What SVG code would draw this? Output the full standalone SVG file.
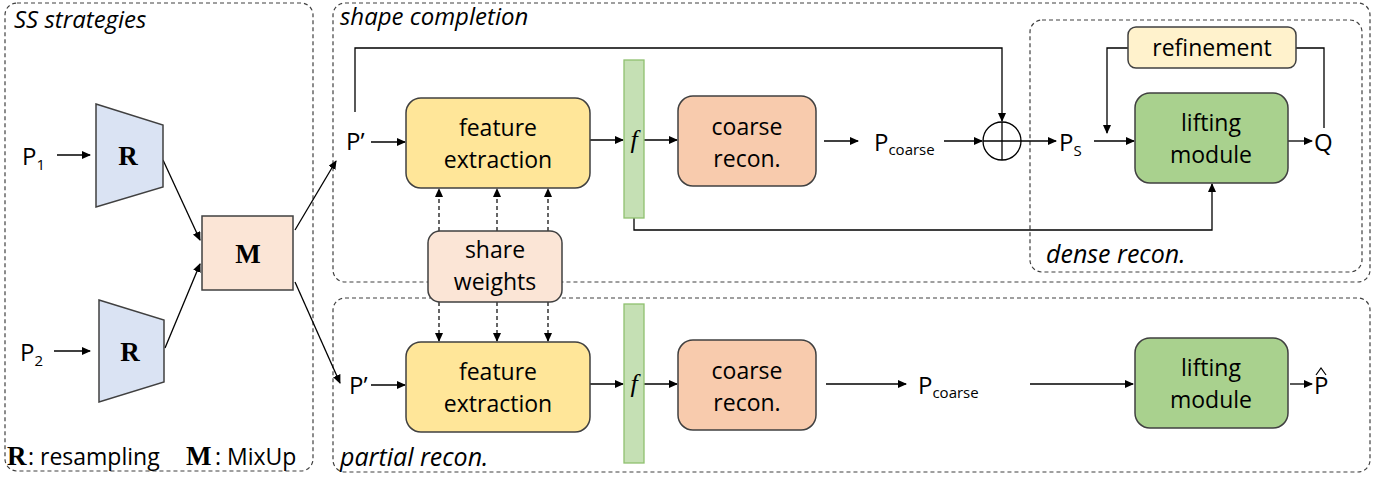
<svg xmlns="http://www.w3.org/2000/svg" width="1384" height="477" viewBox="0 0 1384 477">
<defs>
<marker id="ah" markerWidth="9" markerHeight="8" refX="8" refY="4" orient="auto" markerUnits="userSpaceOnUse"><path d="M0,0 L9,4 L0,8 z" fill="#000"/></marker>
<style>
.panel{fill:none;stroke:#404040;stroke-width:1.2;stroke-dasharray:4,3}
.box{stroke:#404040;stroke-width:1.5}
.ln{fill:none;stroke:#000;stroke-width:1.3}
.ar{fill:none;stroke:#000;stroke-width:1.3;marker-end:url(#ah)}
.dash{fill:none;stroke:#000;stroke-width:1.2;stroke-dasharray:4,3;marker-end:url(#ah)}
.t{font-family:"Open Sans","Liberation Sans",sans-serif;font-size:23px;fill:#000}
.p{font-size:24px}
.c{text-anchor:middle}
.it{font-family:"Open Sans","Liberation Sans",sans-serif;font-style:italic;font-size:24px;fill:#000}
.sub{font-size:15px}
.bs{font-family:"Liberation Serif",serif;font-weight:bold;font-size:27px;fill:#000}
.fi{font-family:"Liberation Serif",serif;font-style:italic;font-size:26px;fill:#000;text-anchor:middle}
</style>
</defs>
<rect width="1384" height="477" fill="#fff"/>

<g id="panels">
<rect class="panel" x="5" y="3" width="308" height="468" rx="12"/>
<rect class="panel" x="333" y="3" width="1037" height="279" rx="12"/>
<rect class="panel" x="333" y="298" width="1037" height="174" rx="12"/>
<rect class="panel" x="1030" y="20" width="332" height="252" rx="12"/>
<text class="it" x="14" y="28">SS strategies</text>
<text class="it" x="340" y="25">shape completion</text>
<text class="it" x="1046" y="263" style="font-size:25px">dense recon.</text>
<text class="it" x="340" y="466" style="font-size:25px">partial recon.</text>
</g>

<g id="connectors">
<line class="ar" x1="57" y1="155" x2="90" y2="155"/>
<line class="ar" x1="54" y1="351" x2="90" y2="351"/>
<line class="ar" x1="163" y1="160" x2="200" y2="240"/>
<line class="ar" x1="165" y1="348" x2="200" y2="264"/>
<line class="ar" x1="295" y1="230" x2="336" y2="161"/>
<line class="ar" x1="295" y1="282" x2="340" y2="383"/>
<polyline class="ar" points="355,112 355,48 1002,48 1002,121"/>
<line class="ar" x1="371" y1="142" x2="405" y2="142"/>
<line class="ar" x1="590" y1="140" x2="623" y2="140"/>
<line class="ar" x1="644" y1="140" x2="677" y2="140"/>
<line class="ar" x1="824" y1="141" x2="858" y2="141"/>
<line class="ar" x1="944" y1="141" x2="982" y2="141"/>
<line class="ar" x1="1021" y1="141" x2="1056" y2="141"/>
<line class="ar" x1="1094" y1="141" x2="1134" y2="141"/>
<line class="ar" x1="1288" y1="141" x2="1312" y2="141"/>
<polyline class="ar" points="1128,48 1107,48 1107,133"/>
<polyline class="ln" points="1296,48 1324,48 1324,128"/>
<polyline class="ar" points="634,218 634,230 1212,230 1212,184"/>
<line class="dash" x1="439" y1="231" x2="439" y2="189"/>
<line class="dash" x1="497" y1="231" x2="497" y2="189"/>
<line class="dash" x1="548" y1="231" x2="548" y2="189"/>
<line class="dash" x1="439" y1="302" x2="439" y2="341"/>
<line class="dash" x1="497" y1="302" x2="497" y2="341"/>
<line class="dash" x1="548" y1="302" x2="548" y2="341"/>
<line class="ar" x1="371" y1="385" x2="405" y2="385"/>
<line class="ar" x1="590" y1="384" x2="623" y2="384"/>
<line class="ar" x1="644" y1="384" x2="677" y2="384"/>
<line class="ar" x1="826" y1="384" x2="906" y2="384"/>
<line class="ar" x1="1030" y1="384" x2="1133" y2="384"/>
<line class="ar" x1="1290" y1="384" x2="1312" y2="384"/>
</g>

<g id="labels">
<text class="t p" x="22" y="165">P<tspan class="sub" dy="5">1</tspan></text>
<text class="t p" x="20" y="361">P<tspan class="sub" dy="5">2</tspan></text>
<text class="t p" x="346" y="150">P’</text>
<text class="t p" x="349" y="394">P’</text>
<text class="t p" x="874" y="151">P<tspan class="sub" dy="4">coarse</tspan></text>
<text class="t p" x="918" y="394">P<tspan class="sub" dy="4">coarse</tspan></text>
<text class="t p" x="1059" y="151">P<tspan class="sub" dy="5">S</tspan></text>
<text class="t p" x="1314" y="151">Q</text>
<text class="t p" x="1314" y="394">P</text>
<path d="M1316,375 L1321,368 L1326,375" fill="none" stroke="#000" stroke-width="1.2"/>
<text class="bs" x="7" y="465">R</text>
<text class="t" x="28" y="465">: resampling</text>
<text class="bs" x="186" y="465">M</text>
<text class="t" x="215" y="465">: MixUp</text>
</g>

<g id="R1">
<polygon class="box" points="96,104 163,125 163,187 96,207" fill="#dae3f3"/>
<text class="bs c" x="128" y="165">R</text>
</g>
<g id="R2">
<polygon class="box" points="99,300 164,320 164,382 99,402" fill="#dae3f3"/>
<text class="bs c" x="130" y="361">R</text>
</g>
<g id="M">
<rect class="box" x="202" y="216" width="91" height="74" fill="#fbe5d6"/>
<text class="bs c" x="248" y="263">M</text>
</g>

<g id="fe1">
<rect class="box" x="406" y="98" width="184" height="90" rx="15" fill="#ffe699"/>
<text class="t c" x="498" y="136">feature</text>
<text class="t c" x="498" y="168">extraction</text>
</g>
<g id="f1">
<rect x="624" y="60" width="20" height="158" fill="#c5e0b4" stroke="#8fc16f" stroke-width="1.3"/>
<text class="fi" x="634" y="148">f</text>
</g>
<g id="coarse1">
<rect class="box" x="678" y="96" width="138" height="90" rx="15" fill="#f8cbad"/>
<text class="t c" x="747" y="135">coarse</text>
<text class="t c" x="747" y="167">recon.</text>
</g>
<g id="sum">
<circle cx="1002" cy="141" r="19" fill="#fff" stroke="#000" stroke-width="1.3"/>
<line class="ln" x1="983" y1="141" x2="1021" y2="141"/>
<line class="ln" x1="1002" y1="122" x2="1002" y2="160"/>
</g>
<g id="refinement">
<rect class="box" x="1128" y="27" width="168" height="41" rx="8" fill="#fff2cc"/>
<text class="t c" x="1212" y="56">refinement</text>
</g>
<g id="lift1">
<rect class="box" x="1135" y="93" width="153" height="90" rx="15" fill="#a9d18e"/>
<text class="t c" x="1211" y="131">lifting</text>
<text class="t c" x="1211" y="163">module</text>
</g>

<g id="share">
<rect class="box" x="428" y="231" width="134" height="71" rx="12" fill="#fbe5d6"/>
<text class="t c" x="495" y="258">share</text>
<text class="t c" x="495" y="290">weights</text>
</g>

<g id="fe2">
<rect class="box" x="406" y="342" width="184" height="90" rx="15" fill="#ffe699"/>
<text class="t c" x="498" y="380">feature</text>
<text class="t c" x="498" y="412">extraction</text>
</g>
<g id="f2">
<rect x="624" y="304" width="20" height="159" fill="#c5e0b4" stroke="#8fc16f" stroke-width="1.3"/>
<text class="fi" x="634" y="392">f</text>
</g>
<g id="coarse2">
<rect class="box" x="678" y="340" width="138" height="90" rx="15" fill="#f8cbad"/>
<text class="t c" x="747" y="379">coarse</text>
<text class="t c" x="747" y="411">recon.</text>
</g>
<g id="lift2">
<rect class="box" x="1135" y="338" width="153" height="90" rx="15" fill="#a9d18e"/>
<text class="t c" x="1211" y="376">lifting</text>
<text class="t c" x="1211" y="408">module</text>
</g>
</svg>
